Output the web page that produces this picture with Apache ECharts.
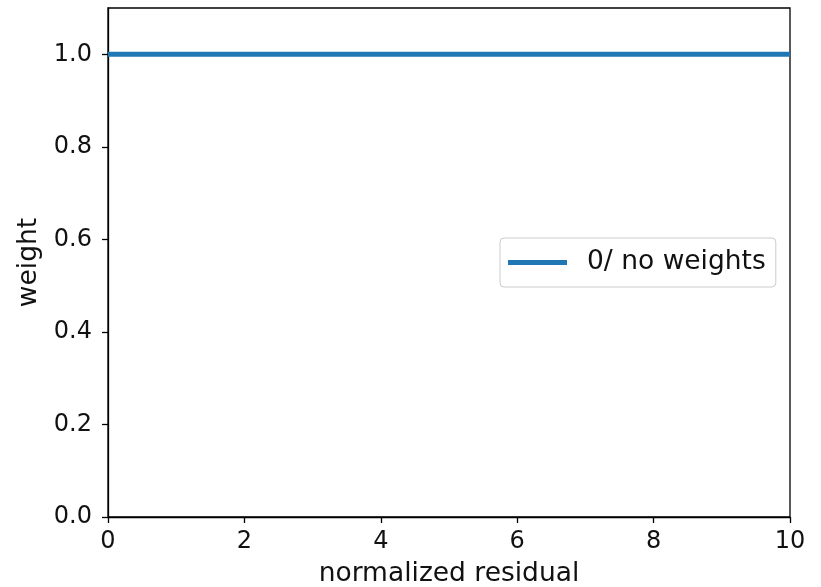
<!DOCTYPE html>
<html>
<head>
<meta charset="utf-8">
<script src="https://cdn.jsdelivr.net/npm/echarts@6/dist/echarts.min.js"></script>
<style>
  html, body { margin: 0; padding: 0; background: #fff; }
  #chart { width: 821px; height: 587px; }
</style>
</head>
<body>
<div id="chart"></div>
<script>
// Weight function for the "no weights" case: constant 1 over the residual range
const residual = [0, 1, 2, 3, 4, 5, 6, 7, 8, 9, 10];
const weight   = [1, 1, 1, 1, 1, 1, 1, 1, 1, 1, 1];
const seriesName = '0/ no weights';

const font = 'DejaVu Sans';
const tickFont = 24;
const labelFont = 26.5;
const chart = echarts.init(document.getElementById('chart'), null, { renderer: 'canvas' });

const axisCommon = {
  axisLine: { show: true, onZero: false, lineStyle: { color: '#000', width: 1.3 } },
  axisTick: { show: true, inside: false, length: 6, lineStyle: { color: '#000', width: 1.3 } },
  splitLine: { show: false },
  axisLabel: { color: '#111', fontFamily: font, fontSize: tickFont },
  nameTextStyle: { color: '#111', fontFamily: font, fontSize: labelFont },
  nameLocation: 'middle'
};

chart.setOption({
  animation: false,
  backgroundColor: '#fff',
  grid: {
    left: 108, right: 31, top: 8, bottom: 70,
    outerBoundsMode: 'none', containLabel: false,
    show: true, borderColor: '#000', borderWidth: 1.3
  },
  xAxis: Object.assign({}, axisCommon, {
    type: 'value',
    min: 0, max: 10, interval: 2,
    name: 'normalized residual',
    nameGap: 44,
    axisLabel: Object.assign({}, axisCommon.axisLabel, { margin: 13 })
  }),
  yAxis: Object.assign({}, axisCommon, {
    type: 'value',
    min: 0, max: 1.1, interval: 0.2,
    name: 'weight',
    nameGap: 65,
    axisLabel: Object.assign({}, axisCommon.axisLabel, {
      margin: 16, showMaxLabel: false,
      formatter: v => v.toFixed(1)
    })
  }),
  legend: {
    left: 500, top: 238,
    padding: [11, 10, 11, 8],
    borderColor: '#ccc', borderWidth: 1, borderRadius: 4,
    backgroundColor: '#fff',
    itemWidth: 59, itemHeight: 5, itemGap: 10,
    icon: 'rect',
    textStyle: { color: '#111', fontFamily: font, fontSize: labelFont, padding: [0, 0, 0, 15] },
    data: [seriesName]
  },
  series: [{
    name: seriesName,
    type: 'line',
    data: residual.map((x, i) => [x, weight[i]]),
    showSymbol: false,
    symbol: 'none',
    lineStyle: { color: '#1f77b4', width: 5 },
    itemStyle: { color: '#1f77b4' },
    clip: false
  }]
});
</script>
</body>
</html>
